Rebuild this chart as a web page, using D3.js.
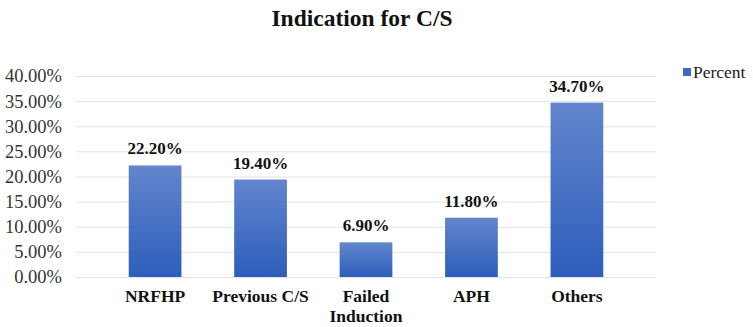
<!DOCTYPE html>
<html lang="en">
<head>
<meta charset="UTF-8">
<title>Indication for C/S</title>
<script src="https://d3js.org/d3.v7.min.js"></script>
<style>
  body { margin: 0; background: #fff; }
</style>
</head>
<body>
<div id="chart"></div>
<script>
  // data
  const categories = ["NRFHP", "Previous C/S", "Failed Induction", "APH", "Others"];
  const percentValues = [22.2, 19.4, 6.9, 11.8, 34.7];
  const yTicks = [0, 5, 10, 15, 20, 25, 30, 35, 40];
  const seriesName = "Percent";

  const FONT = '"Liberation Serif"';
  const W = 753, H = 327;
  const margin = {top: 76, right: 97, bottom: 50, left: 76},
        width = W - margin.left - margin.right,
        height = H - margin.top - margin.bottom;

  const root = d3.select("#chart").append("svg")
    .attr("width", W).attr("height", H)
    .style("font-family", FONT);

  const defs = root.append("defs");
  const grad = defs.append("linearGradient")
    .attr("id", "barGrad").attr("x1", 0).attr("y1", 0).attr("x2", 0).attr("y2", 1);
  grad.append("stop").attr("offset", "0%").attr("stop-color", "#6285cd");
  grad.append("stop").attr("offset", "100%").attr("stop-color", "#2d5ebb");

  const svg = root.append("g")
    .attr("transform", `translate(${margin.left},${margin.top})`);

  const x = d3.scaleBand().domain(categories).range([0, width]).padding(0.5);
  const y = d3.scaleLinear().domain([0, 40]).range([height, 0]);

  // grid lines
  const grid = svg.append("g")
    .call(d3.axisLeft(y).tickValues(yTicks).tickSize(-width).tickFormat(""));
  grid.select(".domain").remove();
  grid.selectAll("line").attr("stroke", "#e3e3e3");

  // y labels
  const yAxis = svg.append("g")
    .call(d3.axisLeft(y).tickValues(yTicks).tickSize(0).tickPadding(14)
      .tickFormat(d => d.toFixed(2) + "%"));
  yAxis.select(".domain").remove();
  yAxis.attr("font-family", null);
  yAxis.selectAll("text")
    .style("font-family", FONT)
    .style("font-size", "18.5px")
    .attr("fill", "#333");

  // bars
  svg.selectAll("rect.bar")
    .data(categories)
    .join("rect")
    .attr("class", "bar")
    .attr("x", d => x(d))
    .attr("y", (d, i) => y(percentValues[i]))
    .attr("width", x.bandwidth())
    .attr("height", (d, i) => height - y(percentValues[i]))
    .attr("fill", "url(#barGrad)");

  // value labels
  svg.selectAll("text.val")
    .data(categories)
    .join("text")
    .attr("class", "val")
    .attr("x", d => x(d) + x.bandwidth() / 2)
    .attr("y", (d, i) => y(percentValues[i]) - 11)
    .attr("text-anchor", "middle")
    .style("font-family", FONT)
    .style("font-size", "17px")
    .style("font-weight", "bold")
    .attr("fill", "#111")
    .text((d, i) => percentValues[i].toFixed(2) + "%");

  // category labels (wrap "Failed Induction")
  const xl = svg.selectAll("text.cat")
    .data(categories)
    .join("text")
    .attr("class", "cat")
    .attr("x", d => x(d) + x.bandwidth() / 2)
    .attr("y", height + 25)
    .attr("text-anchor", "middle")
    .style("font-family", FONT)
    .style("font-size", "17.5px")
    .style("font-weight", "bold")
    .attr("fill", "#111");
  xl.each(function(d) {
    const words = d === "Failed Induction" ? ["Failed", "Induction"] : [d];
    d3.select(this).selectAll("tspan")
      .data(words)
      .join("tspan")
      .attr("x", x(d) + x.bandwidth() / 2)
      .attr("dy", (w, i) => i === 0 ? 0 : 20)
      .text(w => w);
  });

  // title
  root.append("text")
    .attr("x", 362)
    .attr("y", 26)
    .attr("text-anchor", "middle")
    .style("font-family", FONT)
    .style("font-size", "23.5px")
    .style("font-weight", "bold")
    .attr("fill", "#111")
    .text("Indication for C/S");

  // legend
  const legend = root.append("g").attr("transform", "translate(683,68)");
  legend.append("rect").attr("width", 8).attr("height", 8).attr("fill", "#3a68c4");
  legend.append("text")
    .attr("x", 10).attr("y", 9.5)
    .style("font-family", FONT)
    .style("font-size", "17.5px")
    .attr("fill", "#222")
    .text(seriesName);
</script>
</body>
</html>
